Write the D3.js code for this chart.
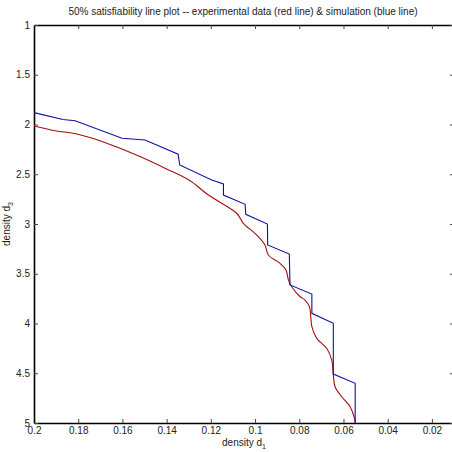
<!DOCTYPE html>
<html>
<head>
<meta charset="utf-8">
<script src="https://cdn.jsdelivr.net/npm/d3@7"></script>
<style>
  body { margin: 0; background: #fff; }
  svg { display: block; font-family: "Liberation Sans", Arial, sans-serif; }
</style>
</head>
<body>
<div id="chart"></div>
<script>
// Simulation (blue line)
const simD1 = [0.2, 0.1869, 0.1814, 0.1602, 0.1498, 0.1348, 0.1341, 0.1196, 0.1143, 0.1143,
  0.1045, 0.1042, 0.0944, 0.0943, 0.0845, 0.0842, 0.0743, 0.0743, 0.0646, 0.0646, 0.0547, 0.0547];
const simD3 = [1.881, 1.950, 1.962, 2.139, 2.156, 2.299, 2.407, 2.558, 2.598, 2.709,
  2.802, 2.903, 3.000, 3.211, 3.302, 3.613, 3.704, 3.898, 3.998, 4.508, 4.601, 5.0];

// Experimental data (red line)
const expD1 = [0.2, 0.1905, 0.1807, 0.1701, 0.1611, 0.1513, 0.1407, 0.1294, 0.1211, 0.1083,
  0.1053, 0.0992, 0.0955, 0.0940, 0.0887, 0.0860, 0.0849, 0.0834, 0.0796, 0.0774, 0.0754,
  0.0748, 0.0743, 0.0721, 0.0676, 0.0653, 0.0646, 0.0638, 0.0608, 0.0570, 0.0552, 0.0546];
const expD3 = [2.015, 2.062, 2.095, 2.163, 2.239, 2.330, 2.440, 2.565, 2.709, 2.892,
  2.993, 3.111, 3.211, 3.312, 3.395, 3.462, 3.563, 3.630, 3.731, 3.764, 3.831,
  3.932, 4.032, 4.149, 4.249, 4.367, 4.518, 4.635, 4.736, 4.836, 4.937, 5.0];

const xTicks = [0.2, 0.18, 0.16, 0.14, 0.12, 0.1, 0.08, 0.06, 0.04, 0.02];
const yTicks = [1, 1.5, 2, 2.5, 3, 3.5, 4, 4.5, 5];

const W = 452, H = 452;
const mLeft = 34, mTop = 25, mBottom = 423, mRight = 454;

const svg = d3.select('#chart').append('svg')
  .attr('width', W).attr('height', H);

const x = d3.scaleLinear().domain([0.2, 0.01]).range([mLeft, mRight]);
const y = d3.scaleLinear().domain([1, 5]).range([mTop, mBottom]);

function styleAxis(g) {
  g.select('.domain').attr('stroke', '#000').attr('stroke-width', 1.6);
  g.selectAll('.tick line').attr('stroke', '#444').attr('stroke-width', 1);
  g.selectAll('.tick text').attr('fill', '#222').style('font-size', '10px');
}

// Bottom axis, ticks inward
svg.append('g')
  .attr('transform', `translate(0,${mBottom})`)
  .call(d3.axisBottom(x).tickValues(xTicks).tickSize(-4).tickSizeOuter(0).tickPadding(4)
    .tickFormat(d => String(+d.toFixed(2))))
  .call(styleAxis);

// Top axis
svg.append('g')
  .attr('transform', `translate(0,${mTop})`)
  .call(d3.axisTop(x).tickValues(xTicks).tickSize(-4).tickSizeOuter(0).tickFormat(''))
  .call(styleAxis);

// Left axis
svg.append('g')
  .attr('transform', `translate(${mLeft},0)`)
  .call(d3.axisLeft(y).tickValues(yTicks).tickSize(-4).tickSizeOuter(0).tickPadding(4)
    .tickFormat(d => String(d)))
  .call(styleAxis);

// Right axis (mostly outside the window)
svg.append('g')
  .attr('transform', `translate(${mRight},0)`)
  .call(d3.axisRight(y).tickValues(yTicks).tickSize(-4).tickSizeOuter(0).tickFormat(''))
  .call(styleAxis);

const line = (xs, ys, curve) => d3.line()
  .x((d, i) => x(xs[i]))
  .y((d, i) => y(ys[i]))
  .curve(curve)(xs);

svg.append('path')
  .attr('d', line(expD1, expD3, d3.curveCatmullRom.alpha(0.5)))
  .attr('fill', 'none').attr('stroke', '#a01010').attr('stroke-width', 1.1);

svg.append('path')
  .attr('d', line(simD1, simD3, d3.curveLinear))
  .attr('fill', 'none').attr('stroke', '#1010a8').attr('stroke-width', 1.1);

// Title
svg.append('text')
  .attr('x', 243).attr('y', 15)
  .attr('text-anchor', 'middle')
  .style('font-size', '10px').attr('fill', '#222')
  .text('50% satisfiability line plot -- experimental data (red line) & simulation (blue line)');

// X label
const xl = svg.append('text')
  .attr('x', 244).attr('y', 446)
  .attr('text-anchor', 'middle')
  .style('font-size', '10px').attr('fill', '#222');
xl.append('tspan').text('density d');
xl.append('tspan').attr('dy', 3).style('font-size', '7px').text('1');

// Y label
const yl = svg.append('text')
  .attr('transform', `translate(10,${(mTop + mBottom) / 2}) rotate(-90)`)
  .attr('text-anchor', 'middle')
  .style('font-size', '10px').attr('fill', '#222');
yl.append('tspan').text('density d');
yl.append('tspan').attr('dy', 3).style('font-size', '7px').text('3');
</script>
</body>
</html>
